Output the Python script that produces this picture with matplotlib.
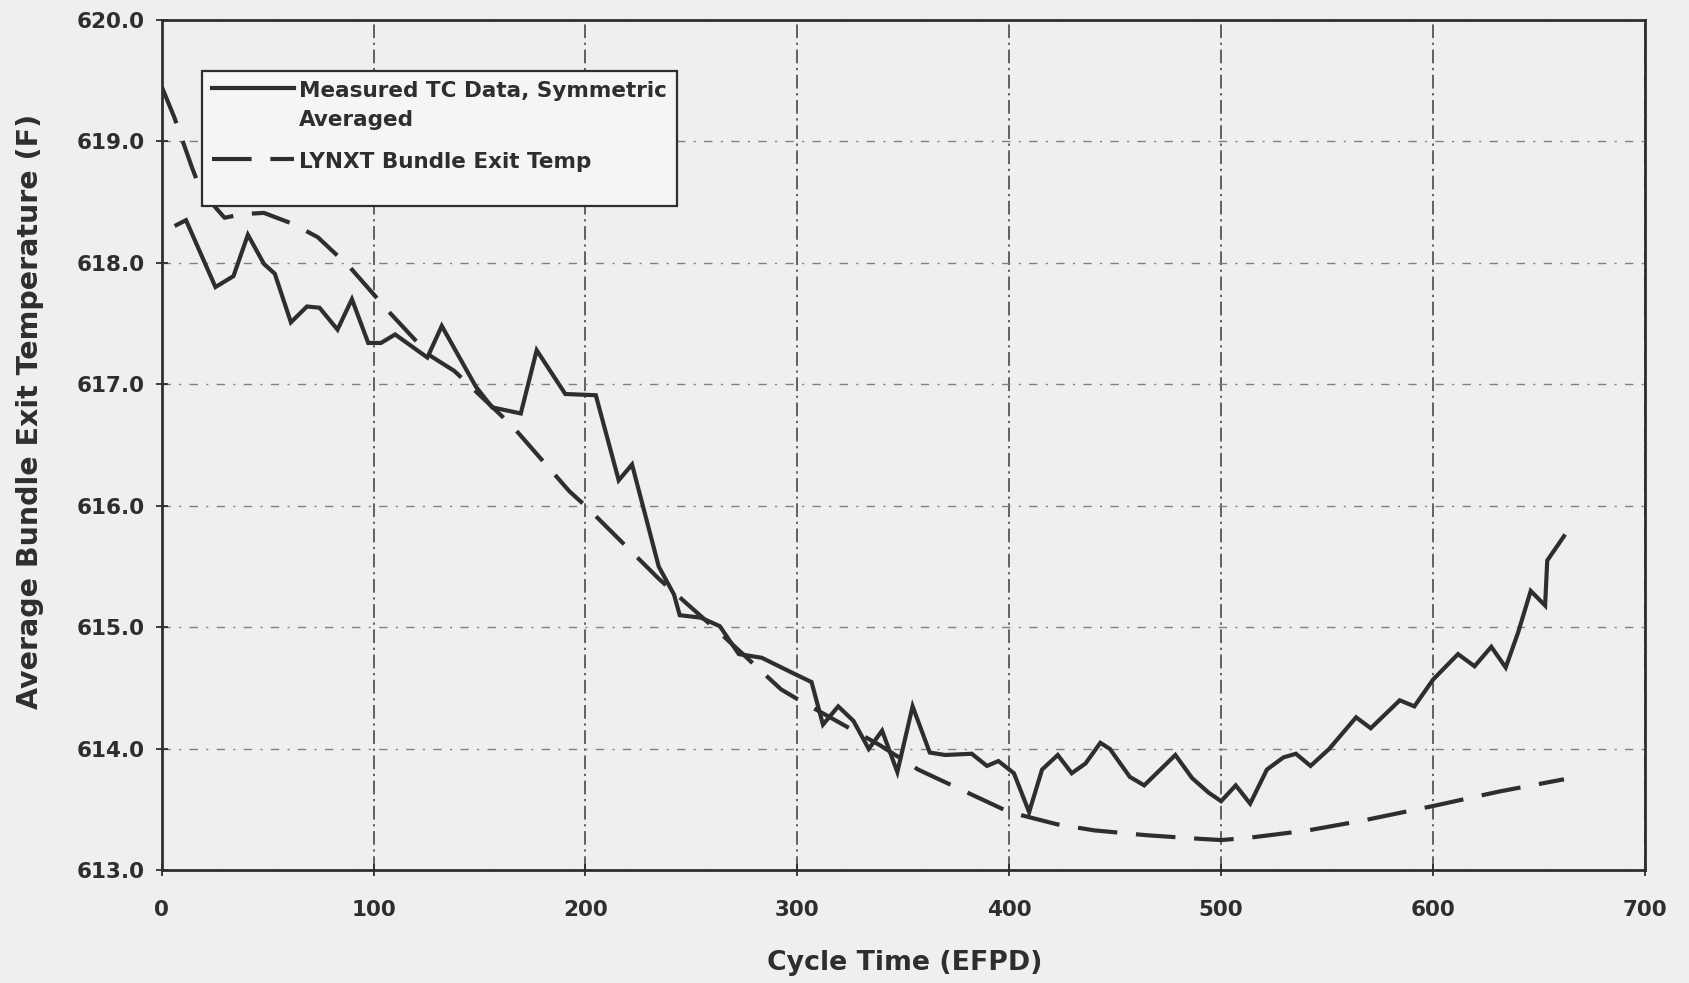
import matplotlib
matplotlib.use("Agg")
import numpy as np
import matplotlib.pyplot as plt
from matplotlib.legend_handler import HandlerLine2D

# measured thermocouple data (symmetric averaged)
meas_x = [7, 11.5, 25.4, 33.9, 40.7, 48.3, 53.4, 61, 68.6, 74.5, 83, 89.8, 97.5,
          103.5, 110.2, 125.4, 132.2, 148.3, 156, 169.5, 177, 190.5, 204.9, 215.7,
          222, 234.6, 241.8, 244.5, 254.4, 263.4, 272.4, 283.2, 299.5, 306.7, 312.1,
          319.3, 326.5, 333.7, 340, 347.2, 354.4, 362.5, 369.7, 382.3, 389.5, 394.9,
          402.2, 409.4, 415.5, 422.9, 429.5, 436, 443, 447.5, 456.9, 463.7, 478.4,
          486.3, 494.1, 500, 506.9, 513.7, 521.6, 529.4, 535.3, 542.2, 551, 563.7,
          570.6, 584.3, 591.2, 600, 611.8, 619.6, 627.5, 634.3, 640.2, 646.1, 652.9,
          653.9, 661.8]
meas_y = [618.31, 618.35, 617.80, 617.89, 618.23, 617.99, 617.91, 617.51, 617.64,
          617.63, 617.45, 617.70, 617.34, 617.34, 617.41, 617.22, 617.48, 616.98,
          616.81, 616.76, 617.28, 616.92, 616.91, 616.21, 616.34, 615.50, 615.27,
          615.10, 615.08, 615.01, 614.78, 614.75, 614.61, 614.55, 614.20, 614.35,
          614.23, 614.00, 614.15, 613.81, 614.35, 613.97, 613.95, 613.96, 613.86,
          613.90, 613.80, 613.48, 613.83, 613.95, 613.80, 613.88, 614.05, 614.00,
          613.77, 613.70, 613.95, 613.76, 613.64, 613.57, 613.70, 613.55, 613.83,
          613.93, 613.96, 613.86, 614.00, 614.26, 614.17, 614.40, 614.35, 614.57,
          614.78, 614.68, 614.84, 614.67, 614.96, 615.30, 615.18, 615.55, 615.75]

# LYNXT predicted bundle exit temperature
lynxt_x = [0, 5.9, 14.4, 18.6, 29.7, 38.1, 48.3, 61.9, 73.7, 89, 107.6, 126.3, 138.1,
           165.3, 192.4, 200, 234.6, 265, 292.3, 300, 339, 357, 400, 422.5, 440,
           464.7, 490.2, 500, 513.7, 541.2, 566.7, 600, 631.4, 661.8]
lynxt_y = [619.45, 619.2, 618.78, 618.59, 618.37, 618.40, 618.41, 618.32, 618.21,
           617.96, 617.59, 617.24, 617.11, 616.66, 616.12, 616.0, 615.40, 614.93,
           614.49, 614.41, 614.03, 613.83, 613.48, 613.38, 613.33, 613.29, 613.26,
           613.25, 613.27, 613.33, 613.41, 613.53, 613.65, 613.75]

x_ticks = [0, 100, 200, 300, 400, 500, 600, 700]
y_ticks = [613.0, 614.0, 615.0, 616.0, 617.0, 618.0, 619.0, 620.0]

ink = '#2e2e2e'
bg = '#efefed'
plt.rcParams['font.family'] = 'DejaVu Sans'


class TopLineHandler(HandlerLine2D):
    # put the legend line level with the first line of a two-line label
    def __init__(self, shift, **kw):
        super().__init__(**kw)
        self.shift = shift

    def create_artists(self, legend, orig_handle, xdescent, ydescent, width,
                       height, fontsize, trans):
        arts = super().create_artists(legend, orig_handle, xdescent, ydescent,
                                      width, height, fontsize, trans)
        for a in arts:
            a.set_ydata(np.asarray(a.get_ydata()) + self.shift * fontsize)
        return arts


fig = plt.figure(figsize=(16.89, 9.83), dpi=100, facecolor=bg)
ax = fig.add_axes([0.0957, 0.1145, 0.8782, 0.8655], facecolor=bg)

meas_line, = ax.plot(meas_x, meas_y, color=ink, lw=3.0, solid_joinstyle='miter',
                     label='Measured TC Data, Symmetric\nAveraged')
# trailing newline leaves the blank strip at the bottom of the legend box
lynxt_line, = ax.plot(lynxt_x, lynxt_y, color=ink, lw=3.0, dashes=(9.5, 4.5),
                      label='LYNXT Bundle Exit Temp\n')

ax.set_xlim(0, 700)
ax.set_ylim(613, 620)
ax.set_xticks(x_ticks)
ax.set_yticks(y_ticks)
ax.set_yticklabels([f'{v:.1f}' for v in y_ticks])

# dash-dot grid, verticals darker than horizontals
ax.xaxis.grid(True, color='#3a3a3a', lw=1.1, linestyle=(0, (9, 3, 1.5, 3)))
ax.yaxis.grid(True, color='#808080', lw=1.0, linestyle=(0, (6, 6, 1.5, 6)))
ax.set_axisbelow(True)

for s in ax.spines.values():
    s.set_linewidth(2.0)
    s.set_color(ink)

ax.tick_params(direction='inout', length=8, width=1.3, color=ink,
               labelsize=15.5, labelcolor=ink)
ax.tick_params(axis='x', pad=17)
ax.tick_params(axis='y', pad=8)
for lab in ax.get_xticklabels() + ax.get_yticklabels():
    lab.set_fontweight('bold')

ax.set_xlabel('Cycle Time (EFPD)', fontsize=19.3, fontweight='bold', color=ink)
ax.set_ylabel('Average Bundle Exit Temperature (F)', fontsize=20.5,
              fontweight='bold', color=ink)
ax.xaxis.set_label_coords(0.501, -0.094)
ax.yaxis.set_label_coords(-0.079, 0.539)

leg = ax.legend(loc='upper left', bbox_to_anchor=(0.027, 0.94), borderaxespad=0,
                fancybox=False, framealpha=1, facecolor='#f5f5f3',
                edgecolor=ink, handlelength=3.8, handletextpad=0.2,
                borderpad=0.5, labelspacing=1.0,
                handler_map={meas_line: TopLineHandler(0.85),
                             lynxt_line: TopLineHandler(0.7)},
                prop={'size': 15.5, 'weight': 'bold'})
leg.get_frame().set_linewidth(1.6)
texts = leg.get_texts()
for t in texts:
    t.set_color(ink)
texts[0].set_linespacing(1.55)
texts[1].set_linespacing(1.2)

fig.savefig('out.png', dpi=100, facecolor=bg)
